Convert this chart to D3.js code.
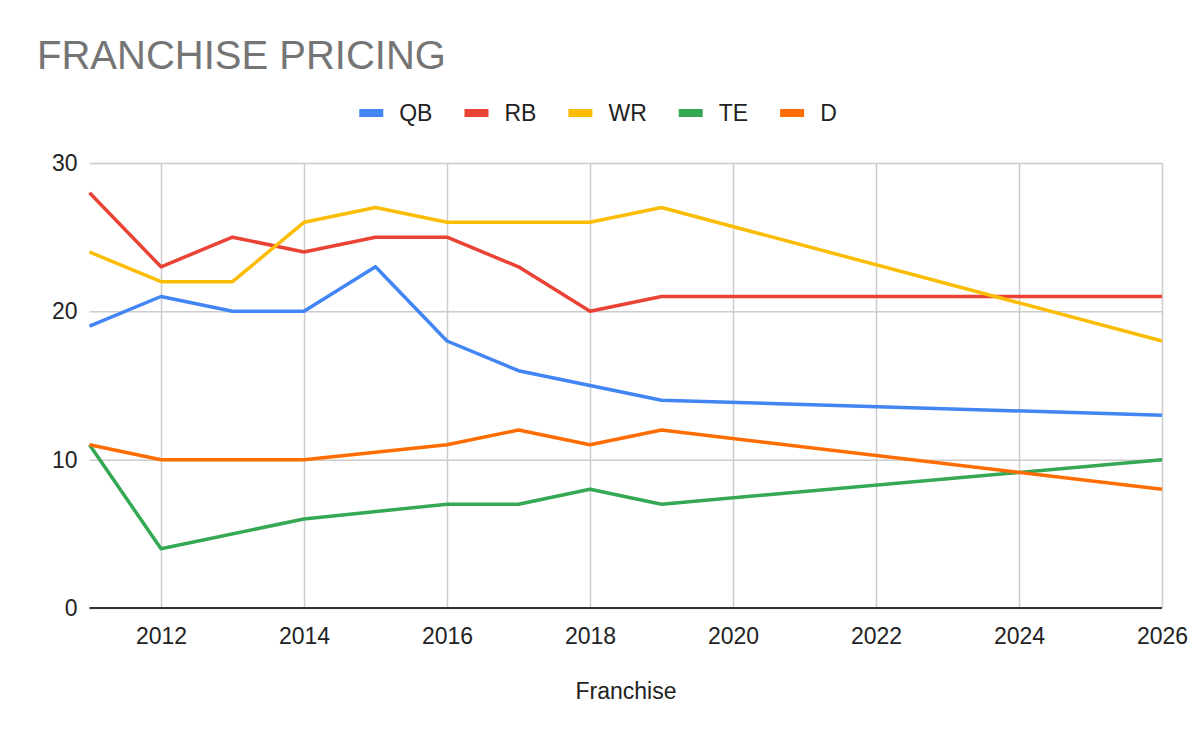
<!DOCTYPE html>
<html>
<head>
<meta charset="utf-8">
<script src="https://cdn.jsdelivr.net/npm/d3@7"></script>
<style>
  body { margin: 0; background: #fff; }
  svg { display: block; font-family: "Liberation Sans", Arial, sans-serif; }
</style>
</head>
<body>
<svg id="chart" width="1200" height="742"></svg>
<script>
// data (null = no point for that year)
var years = [2011, 2012, 2013, 2014, 2015, 2016, 2017, 2018, 2019, 2026];
var qb = [19, 21, 20, 20, 23, 18, 16, 15, 14, 13];
var rb = [28, 23, 25, 24, 25, 25, 23, 20, 21, 21];
var wr = [24, 22, 22, 26, 27, 26, 26, 26, 27, 18];
var te = [11, 4, null, 6, null, 7, 7, 8, 7, 10];
var d  = [11, 10, 10, 10, null, 11, 12, 11, 12, 8];
var seriesNames = ["QB", "RB", "WR", "TE", "D"];
var xTicks = [2012, 2014, 2016, 2018, 2020, 2022, 2024, 2026];
var yTicks = [0, 10, 20, 30];

var colors = ["#4285F4", "#EA4335", "#FBBC04", "#34A853", "#FF6D01"];
var allSeries = [qb, rb, wr, te, d];

var svg = d3.select("#chart");
var margin = {top: 163, right: 38, bottom: 134, left: 89.5};
var width = 1200 - margin.left - margin.right;
var height = 742 - margin.top - margin.bottom;

var x = d3.scaleLinear().domain([2011, 2026]).range([0, width]);
var y = d3.scaleLinear().domain([0, 30]).range([height, 0]);

// title
svg.append("text")
  .attr("x", 37)
  .attr("y", 69)
  .style("font-size", "40px")
  .style("fill", "#757575")
  .text("FRANCHISE PRICING");

var plot = svg.append("g")
  .attr("transform", "translate(" + margin.left + "," + margin.top + ")");

// horizontal grid + y labels
var yAxis = d3.axisLeft(y).tickValues(yTicks).tickSize(-width).tickPadding(12);
var yG = plot.append("g").call(yAxis);
yG.select(".domain").remove();
yG.selectAll(".tick line").attr("stroke", "#cccccc").attr("stroke-width", 1.5);
yG.selectAll(".tick text")
  .style("font-size", "23px")
  .style("fill", "#222")
  .style("font-family", "Liberation Sans, Arial, sans-serif");

// vertical grid + x labels
var xAxis = d3.axisBottom(x).tickValues(xTicks).tickFormat(d3.format("d"))
  .tickSize(-height).tickPadding(14);
var xG = plot.append("g")
  .attr("transform", "translate(0," + height + ")")
  .call(xAxis);
xG.select(".domain").remove();
xG.selectAll(".tick line")
  .attr("stroke", "#cccccc").attr("stroke-width", 1.5)
  .attr("y1", 0).attr("y2", -height);
xG.selectAll(".tick text")
  .attr("dy", "0.95em")
  .style("font-size", "23px")
  .style("fill", "#222")
  .style("font-family", "Liberation Sans, Arial, sans-serif");

// baseline
plot.append("line")
  .attr("x1", 0).attr("x2", width)
  .attr("y1", y(0)).attr("y2", y(0))
  .attr("stroke", "#333").attr("stroke-width", 2);

// lines
var line = d3.line()
  .x(function(p) { return x(p.year); })
  .y(function(p) { return y(p.value); });

allSeries.forEach(function(vals, i) {
  var pts = [];
  for (var k = 0; k < years.length; k++) {
    if (vals[k] != null) pts.push({year: years[k], value: vals[k]});
  }
  plot.append("path")
    .datum(pts)
    .attr("fill", "none")
    .attr("stroke", colors[i])
    .attr("stroke-width", 3.5)
    .attr("stroke-linejoin", "round")
    .attr("d", line);
});

// x axis title
svg.append("text")
  .attr("x", 626)
  .attr("y", 699)
  .attr("text-anchor", "middle")
  .style("font-size", "23px")
  .style("fill", "#222")
  .text("Franchise");

// legend, centered
var legend = svg.append("g").attr("transform", "translate(0,113)");
var items = legend.selectAll("g").data(seriesNames).enter().append("g");
items.append("rect")
  .attr("y", -4).attr("width", 24).attr("height", 8)
  .attr("fill", function(n, i) { return colors[i]; });
items.append("text")
  .attr("x", 40).attr("dy", "0.36em")
  .style("font-size", "23px")
  .style("fill", "#222")
  .text(function(n) { return n; });

var pos = 0;
items.each(function() {
  d3.select(this).attr("transform", "translate(" + pos + ",0)");
  pos += this.getBBox().width + 32;
});
var total = pos - 32;
legend.attr("transform", "translate(" + (600 - total / 2 - 2) + ",113)");
</script>
</body>
</html>
